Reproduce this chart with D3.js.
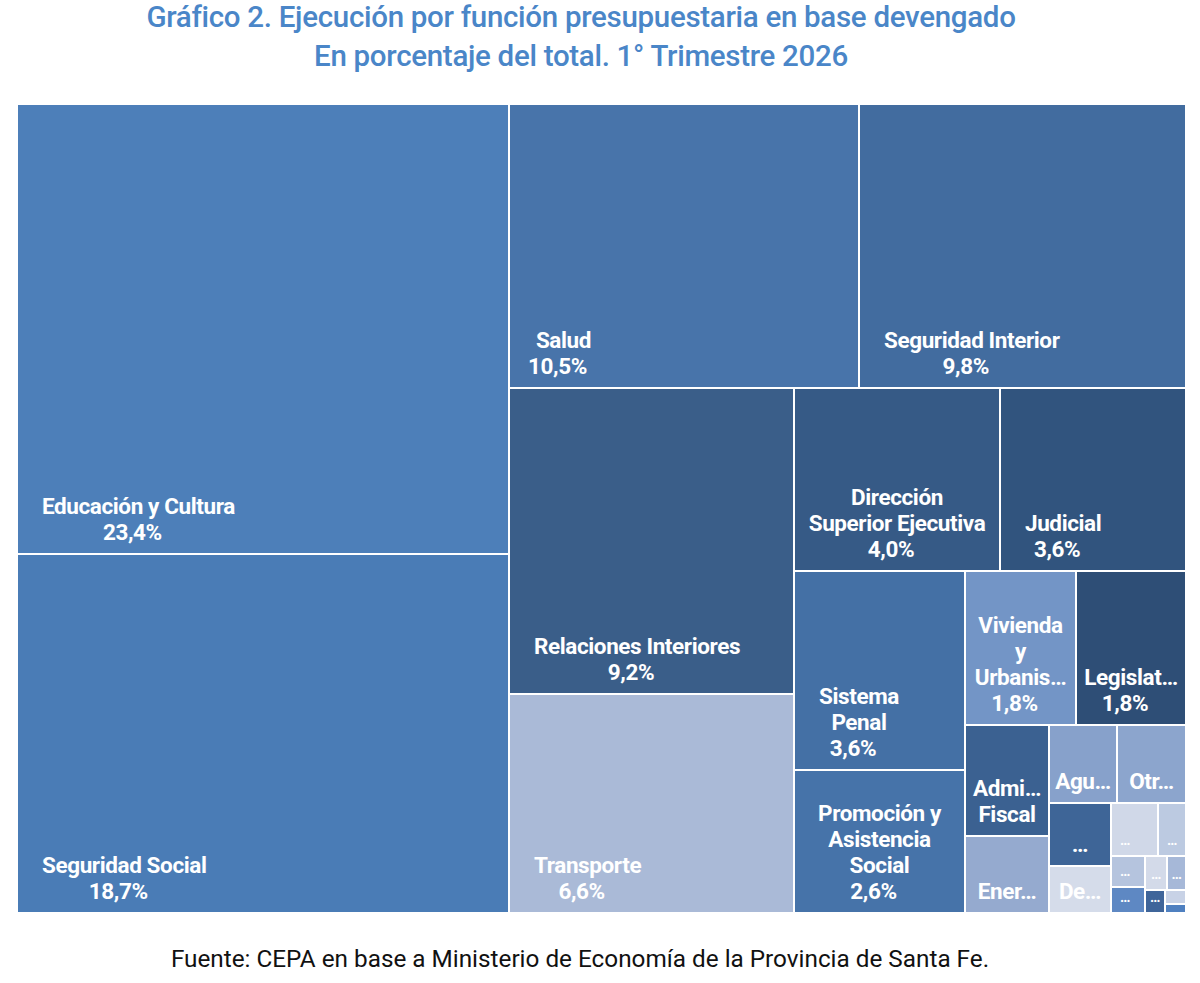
<!DOCTYPE html>
<html>
<head>
<meta charset="utf-8">
<script src="https://cdn.jsdelivr.net/npm/d3@7"></script>
<style>
  html, body { margin: 0; padding: 0; background: #fff; }
  svg { display: block; font-family: Roboto, "Noto Sans", sans-serif; }
</style>
</head>
<body>
<svg id="chart"></svg>
<script>
// Budget functions, accrued basis, % of total (1st quarter 2026)
const names = [
    "Educación y Cultura", "Seguridad Social", "Salud", "Seguridad Interior",
    "Relaciones Interiores", "Transporte", "Dirección Superior Ejecutiva", "Judicial",
    "Sistema Penal", "Promoción y Asistencia Social", "Vivienda y Urbanismo", "Legislativa",
    "Administración Fiscal", "Energía, Combustibles y Minería", "Agua Potable y Alcantarillado",
    "Otros Servicios Urbanos", "Agricultura", "Deuda Pública", "Ecología y Medio Ambiente",
    "Ciencia y Técnica", "Trabajo", "Industria", "Comercio, Turismo y Otros Servicios",
    "Control de la Gestión Pública", "Información y Estadística Básicas", "Comunicaciones",
    "Seguros y Finanzas"
];
const values = [
    23.4, 18.7, 10.5, 9.8,
    9.2, 6.6, 4.0, 3.6,
    3.6, 2.6, 1.8, 1.8,
    0.98, 0.68, 0.56,
    0.56, 0.42, 0.31, 0.26,
    0.16, 0.11, 0.09, 0.08,
    0.07, 0.05, 0.03,
    0.02
];
// text as printed inside each cell (line breaks and truncation of the original)
const shown = [
    "Educación y Cultura", "Seguridad Social", "Salud", "Seguridad Interior",
    "Relaciones Interiores", "Transporte", "Dirección\nSuperior Ejecutiva", "Judicial",
    "Sistema\nPenal", "Promoción y\nAsistencia\nSocial", "Vivienda\ny\nUrbanis…", "Legislat…",
    "Admi…\nFiscal", "Ener…", "Agu…",
    "Otr…", "…", "De…", "…",
    "…", "…", "…", "…",
    "…", "…", "",
    ""
];
const colors = [
    "#4d7fb9", "#4a7cb6", "#4874aa", "#426c9f",
    "#3a5e89", "#aabad7", "#365a86", "#31547e",
    "#4470a5", "#4673a9", "#7395c6", "#2e4e76",
    "#3b6191", "#95aacf", "#87a1cb",
    "#8ca5cd", "#3e6597", "#d5dcea", "#d0d8e8",
    "#bccae1", "#b5c4de", "#5e88c3", "#d3dae9",
    "#a6b8d8", "#3f659a", "#c8d2e6",
    "#4f80c0"
];
const title = ["Gráfico 2. Ejecución por función presupuestaria en base devengado",
               "En porcentaje del total. 1° Trimestre 2026"];
const source = "Fuente: CEPA en base a Ministerio de Economía de la Provincia de Santa Fe.";

const W = 1200, H = 983;
const margin = { top: 105, right: 15, bottom: 71, left: 18 };
const innerW = W - margin.left - margin.right;
const innerH = H - margin.top - margin.bottom;

const svg = d3.select("#chart").attr("width", W).attr("height", H);

svg.append("g")
    .selectAll("text")
    .data(title)
    .enter()
    .append("text")
    .attr("x", 581)
    .attr("y", function (d, i) { return 27 + i * 39; })
    .attr("text-anchor", "middle")
    .attr("font-size", "29.5px")
    .attr("font-weight", 500)
    .attr("letter-spacing", "-0.3px")
    .attr("fill", "#4a86c8")
    .text(function (d) { return d; });

const rows = names.map(function (n, i) {
    return { name: n, value: values[i], label: shown[i], color: colors[i], idx: i };
});

const root = d3.hierarchy({ children: rows })
    .sum(function (d) { return d.value || 0; })
    .sort(function (a, b) { return b.value - a.value; });

d3.treemap()
    .tile(d3.treemapSquarify.ratio(1))
    .size([innerW, innerH])
    .paddingInner(2)
    .round(true)(root);

const g = svg.append("g").attr("transform", "translate(" + margin.left + "," + margin.top + ")");

const cell = g.selectAll("g.cell")
    .data(root.leaves())
    .enter()
    .append("g")
    .attr("class", "cell");

cell.append("rect")
    .attr("x", function (d) { return d.x0; })
    .attr("y", function (d) { return d.y0; })
    .attr("width", function (d) { return Math.max(0, d.x1 - d.x0); })
    .attr("height", function (d) { return Math.max(0, d.y1 - d.y0); })
    .attr("fill", function (d) { return d.data.color; });

const fmt = function (v) { return d3.format(".1f")(v).replace(".", ",") + "%"; };
const lineH = 26;

cell.each(function (d) {
    if (!d.data.label) return;
    const lines = d.data.label.split("\n");
    if (d.data.value >= 1.5) lines.push(fmt(d.data.value));
    const small = d.data.label === "…" && (d.x1 - d.x0) < 60;
    const txt = d3.select(this).append("text")
        .attr("fill", "#fff")
        .attr("font-size", small ? "14px" : "22.5px")
        .attr("font-weight", 700)
        .attr("letter-spacing", "-0.4px")
        .attr("text-anchor", "middle");
    const spans = txt.selectAll("tspan")
        .data(lines)
        .enter()
        .append("tspan")
        .text(function (t) { return t; });
    var maxW = 0;
    spans.each(function () { maxW = Math.max(maxW, this.getComputedTextLength()); });
    const pad = small ? 8 : 24;
    const cw = d.x1 - d.x0;
    var cx;
    if (maxW <= cw - 2 * pad) cx = d.x0 + pad + maxW / 2;
    else cx = (d.x0 + d.x1) / 2;
    const bottom = d.y1 - (small ? 10 : 13);
    const n = lines.length;
    spans
        .attr("x", function (t, i) { return (i === n - 1 && d.data.value >= 1.5) ? cx - 6 : cx; })
        .attr("y", function (t, i) { return bottom - (n - 1 - i) * lineH; });
});

svg.append("text")
    .attr("x", 580)
    .attr("y", 967)
    .attr("text-anchor", "middle")
    .attr("font-size", "24.3px")
    .attr("fill", "#111")
    .text(source);
</script>
</body>
</html>
